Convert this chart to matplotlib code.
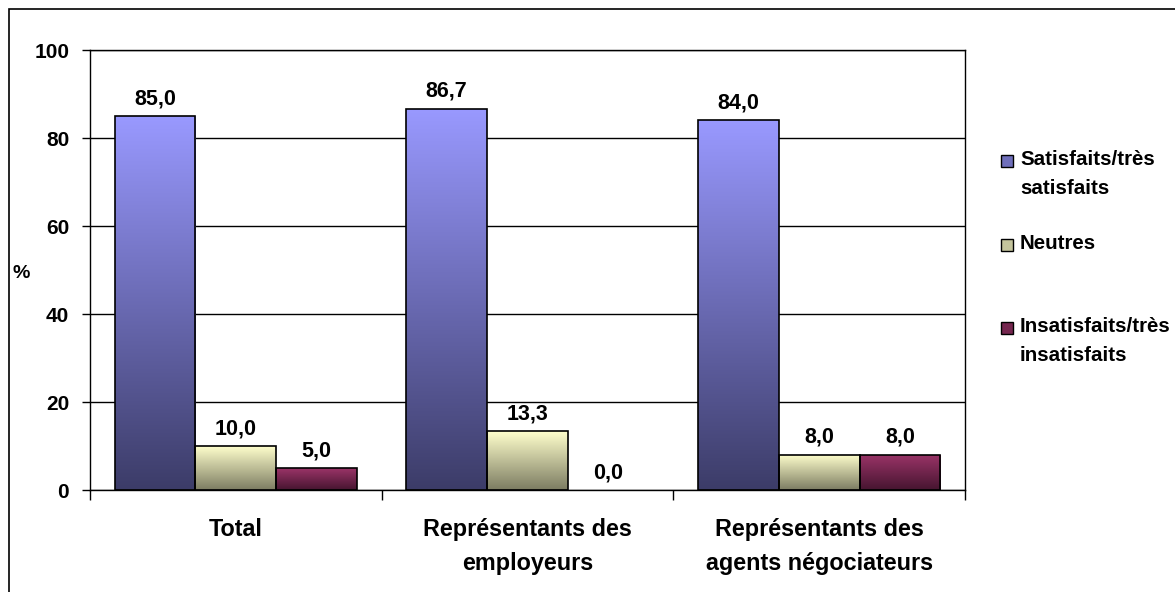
import numpy as np
import matplotlib.pyplot as plt
from matplotlib.colors import LinearSegmentedColormap
from matplotlib.patches import Rectangle

plt.rcParams['font.family'] = ['Liberation Sans', 'DejaVu Sans']
plt.rcParams['font.weight'] = 'bold'

categories = ['Total', 'Représentants des\nemployeurs', 'Représentants des\nagents négociateurs']
series_names = ['Satisfaits/très\nsatisfaits', 'Neutres', 'Insatisfaits/très\ninsatisfaits']
satisfaits = [85.0, 86.7, 84.0]
neutres = [10.0, 13.3, 8.0]
insatisfaits = [5.0, 0.0, 8.0]
yticks = [0, 20, 40, 60, 80, 100]

# (top colour, bottom colour) for the vertical gradient of each series
gradients = [('#9999FF', '#3C3C68'), ('#FFFFCC', '#7C7C62'), ('#9B3468', '#461530')]


def fmt(v):
    return f'{v:.1f}'.replace('.', ',')


fig = plt.figure(figsize=(11.75, 5.92), dpi=100)
ax = fig.add_axes([90 / 1175, 1 - 490 / 592, 875 / 1175, 440 / 592])

x = np.arange(len(categories))
width = 0.277
values = [satisfaits, neutres, insatisfaits]

for i, (vals, (top, bot)) in enumerate(zip(values, gradients)):
    cmap = LinearSegmentedColormap.from_list('g%d' % i, [bot, top])
    pos = x + (i - 1) * width
    bars = ax.bar(pos, vals, width, color='none', edgecolor='black', linewidth=1.2, zorder=3)
    for b, v in zip(bars, vals):
        ax.annotate(fmt(v), (b.get_x() + b.get_width() / 2, v), xytext=(0, 5),
                    textcoords='offset points', ha='center', va='bottom',
                    fontsize=15.5, fontweight='bold')
        if v <= 0:
            b.set_linewidth(0)
            continue
        grad = np.linspace(0, 1, 256).reshape(-1, 1)
        im = ax.imshow(grad, cmap=cmap, origin='lower', aspect='auto',
                       extent=[b.get_x(), b.get_x() + b.get_width(), 0, v], zorder=2)
        im.set_clip_path(b)

ax.set_xlim(-0.5, len(categories) - 0.5)
ax.set_ylim(0, 100)
ax.set_yticks(yticks)
ax.tick_params(axis='y', direction='out', length=6, width=1, labelsize=15, pad=9)
ax.yaxis.grid(True, color='black', linewidth=1, zorder=0)
ax.set_axisbelow(True)

# tick marks between categories, labels centred below each group
ax.set_xticks(np.arange(len(categories) + 1) - 0.5)
ax.set_xticklabels([])
ax.tick_params(axis='x', which='major', direction='out', length=7, width=1)
ax.set_xticks(x, minor=True)
ax.set_xticklabels(categories, minor=True, fontsize=16.8, fontweight='bold', linespacing=1.6)
ax.tick_params(axis='x', which='minor', length=0, pad=20)
ax.set_aspect('auto')

for s in ax.spines.values():
    s.set_linewidth(1)
    s.set_color('black')

fig.text(21 / 1175, 1 - 273 / 592, '%', fontsize=14, fontweight='bold', ha='center', va='center')

# legend, drawn by hand to match the spacing of the original
leg_y = [161, 245, 328]
for (name, (top, bot)), y in zip(zip(series_names, gradients), leg_y):
    mid = LinearSegmentedColormap.from_list('m', [bot, top])(0.55)
    fig.patches.append(Rectangle((1001 / 1175, 1 - (y + 6) / 592), 12 / 1175, 12 / 592,
                                 transform=fig.transFigure, facecolor=mid,
                                 edgecolor='black', linewidth=1))
    fig.text(1020 / 1175, 1 - (y - 11) / 592, name, fontsize=14.8, fontweight='bold',
             ha='left', va='top', linespacing=1.68)

# outer chart frame
fig.patches.append(Rectangle((9 / 1175, -0.05), 1.1, 1 - 9 / 592 + 0.05,
                             transform=fig.transFigure, facecolor='none',
                             edgecolor='black', linewidth=1.2))

fig.savefig('out.png', dpi=100)
